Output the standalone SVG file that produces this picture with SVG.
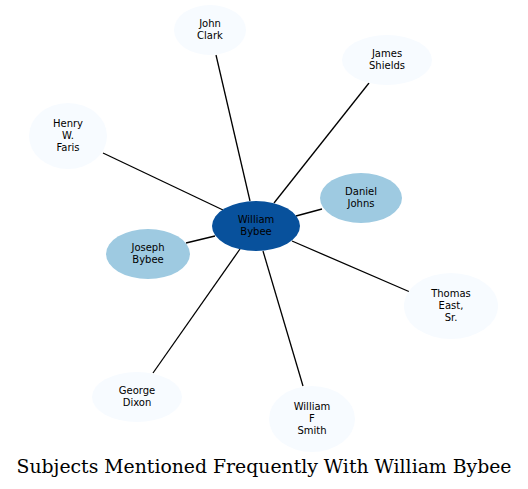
<svg xmlns="http://www.w3.org/2000/svg" width="528" height="489" viewBox="0 0 528 489">
<style>
.n text{font-family:"DejaVu Sans",sans-serif;font-size:10px;fill:#000;text-anchor:middle}
.e{stroke:#000;stroke-width:1.3;fill:none}
.l{fill:#f7fbff}.m{fill:#9ecae1}.d{fill:#08519c}
.t{font-family:"DejaVu Serif",serif;font-size:18.5px;fill:#000;text-anchor:middle}
</style>
<rect width="528" height="489" fill="#fff"/>
<g id="edges">
<line class="e" x1="216" y1="55" x2="250" y2="201"/>
<line class="e" x1="369" y1="83" x2="274" y2="203"/>
<line class="e" x1="103" y1="153" x2="223" y2="210"/>
<line class="e" x1="322" y1="209" x2="296" y2="216"/>
<line class="e" x1="186" y1="243" x2="215" y2="236"/>
<line class="e" x1="410" y1="292" x2="292" y2="241"/>
<line class="e" x1="153" y1="373" x2="240" y2="249"/>
<line class="e" x1="303" y1="386" x2="263" y2="251"/>
</g>
<g id="william-bybee" class="n"><ellipse class="d" cx="256" cy="226" rx="44" ry="25"/><text x="256" y="223">William</text><text x="256" y="235">Bybee</text></g>
<g id="daniel-johns" class="n"><ellipse class="m" cx="361" cy="198" rx="41" ry="25"/><text x="361" y="195">Daniel</text><text x="361" y="207">Johns</text></g>
<g id="joseph-bybee" class="n"><ellipse class="m" cx="148" cy="254" rx="42" ry="25"/><text x="148" y="251">Joseph</text><text x="148" y="263">Bybee</text></g>
<g id="john-clark" class="n"><ellipse class="l" cx="210" cy="30" rx="36" ry="25"/><text x="210" y="27">John</text><text x="210" y="39">Clark</text></g>
<g id="james-shields" class="n"><ellipse class="l" cx="387" cy="60" rx="45" ry="25"/><text x="387" y="57">James</text><text x="387" y="69">Shields</text></g>
<g id="henry-w-faris" class="n"><ellipse class="l" cx="68" cy="136" rx="39" ry="33"/><text x="68" y="127">Henry</text><text x="68" y="139">W.</text><text x="68" y="151">Faris</text></g>
<g id="thomas-east-sr" class="n"><ellipse class="l" cx="451" cy="306" rx="47" ry="33"/><text x="451" y="297">Thomas</text><text x="451" y="309">East,</text><text x="451" y="321">Sr.</text></g>
<g id="george-dixon" class="n"><ellipse class="l" cx="137" cy="397" rx="45" ry="25"/><text x="137" y="394">George</text><text x="137" y="406">Dixon</text></g>
<g id="william-f-smith" class="n"><ellipse class="l" cx="312" cy="419" rx="43" ry="33"/><text x="312" y="410">William</text><text x="312" y="422">F</text><text x="312" y="434">Smith</text></g>
<text class="t" x="264" y="473" textLength="495" lengthAdjust="spacingAndGlyphs">Subjects Mentioned Frequently With William Bybee</text>
</svg>
